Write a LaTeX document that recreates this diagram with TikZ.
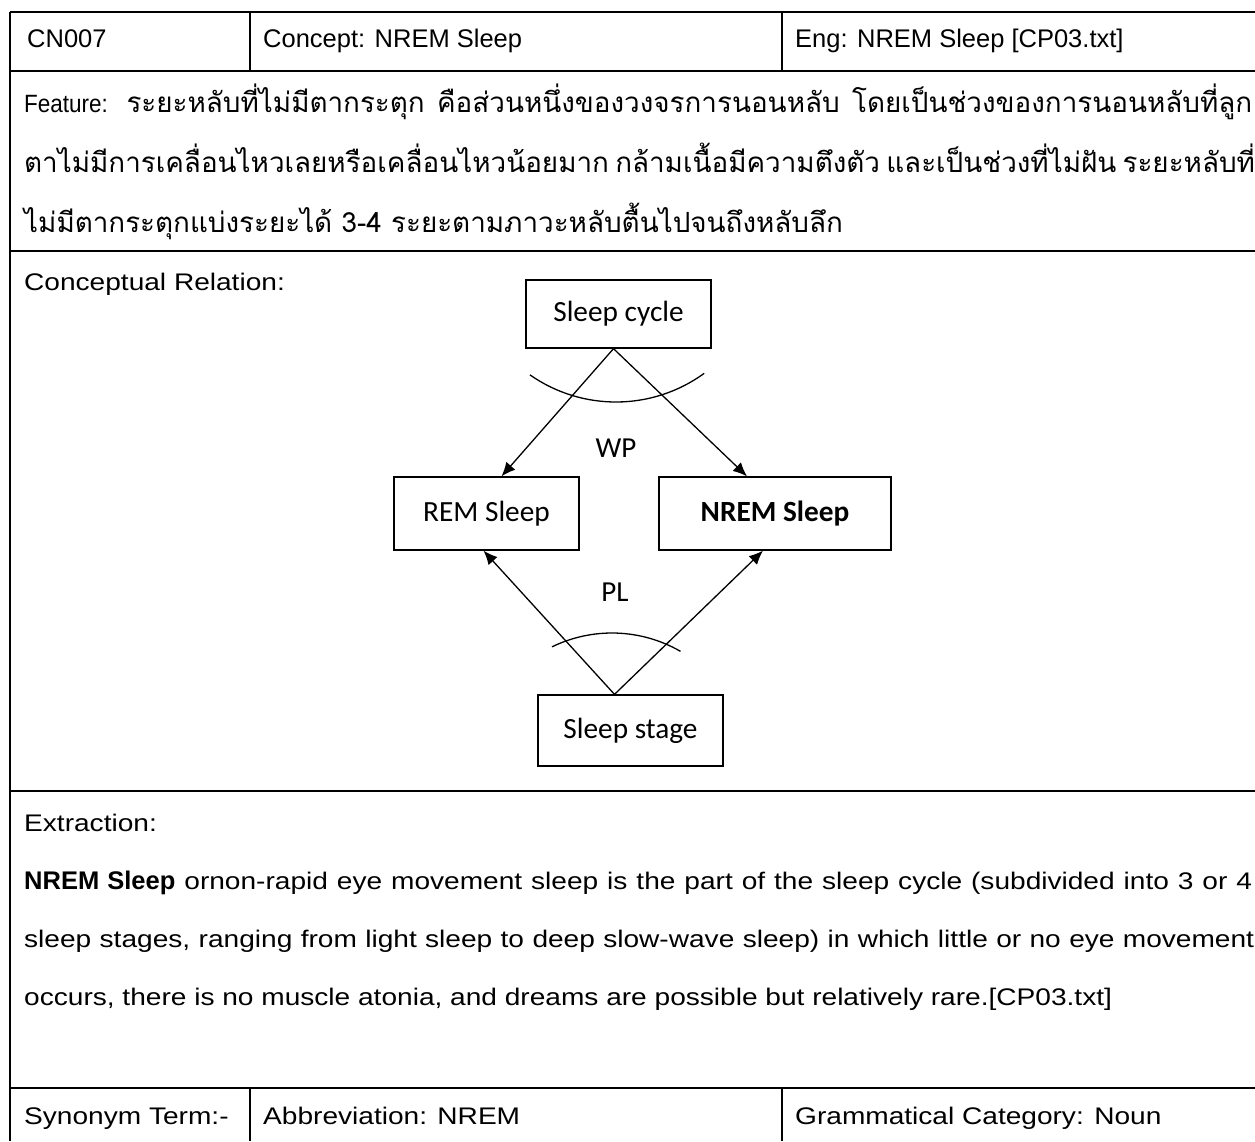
\documentclass[tikz,border=0pt]{standalone}
\usepackage{fontspec}
\setmainfont{Liberation Sans}
\newfontfamily\bodyfont[FakeStretch=1.17]{Liberation Sans}
\newfontfamily\featfont[FakeStretch=0.9]{Liberation Sans}
\newfontfamily\thaifont[Script=Thai]{Loma}
\newfontfamily\diagfont{Carlito}
\usetikzlibrary{arrows.meta,calc}

\tikzset{
  rule/.style={line width=2.4pt},
  head/.style={anchor=base west, inner sep=0pt, font=\fontsize{25.5}{30}\selectfont},
  txt/.style={anchor=base west, inner sep=0pt, font=\bodyfont\fontsize{24}{28}\selectfont},
  thai/.style={anchor=base west, inner sep=0pt, font=\thaifont\fontsize{27.8}{32}\selectfont},
  cbox/.style={draw, line width=1.3pt, inner sep=0pt, minimum width=185pt,
    font=\diagfont\fontsize{29.3}{34}\selectfont},
  rel/.style={line width=1.3pt, -{Latex[length=14pt,width=12pt]}},
  arcline/.style={line width=1.3pt},
  rlabel/.style={inner sep=0pt, font=\diagfont\fontsize{29}{34}\selectfont}
}

\begin{document}
\begin{tikzpicture}[x=1pt,y=-1pt]
\useasboundingbox (0,0) rectangle (1255,1141);

% table rules
\draw[rule] (10,12) -- (1255,12);
\draw[rule] (10,12) -- (10,1141);
\draw[rule] (10,71) -- (1255,71);
\draw[rule] (250,12) -- (250,71);
\draw[rule] (782,12) -- (782,71);
\draw[rule] (10,251) -- (1255,251);
\draw[rule] (10,791) -- (1255,791);
\draw[rule] (10,1088) -- (1255,1088);
\draw[rule] (250,1088) -- (250,1141);
\draw[rule] (782,1088) -- (782,1141);

% header row
\node[head] (id) at (27,47) {CN007};
\node[head] (concept) at (263,47) {Concept: NREM Sleep};
\node[head] (eng) at (795,47) {Eng: NREM Sleep [CP03.txt]};

% feature
\node[thai] (f1) at (24,112) {\makebox[1228pt][s]{{\featfont\fontsize{25}{28}\selectfont Feature:} ระยะหลับที่ไม่มีตากระตุก คือส่วนหนึ่งของวงจรการนอนหลับ โดยเป็นช่วงของการนอนหลับที่ลูก}};
\node[thai] (f2) at (24,172) {\makebox[1228pt][s]{ตาไม่มีการเคลื่อนไหวเลยหรือเคลื่อนไหวน้อยมาก กล้ามเนื้อมีความตึงตัว และเป็นช่วงที่ไม่ฝัน ระยะหลับที่}};
\node[thai] (f3) at (24,232) {ไม่มีตากระตุกแบ่งระยะได้ 3-4 ระยะตามภาวะหลับตื้นไปจนถึงหลับลึก};

% conceptual relation
\node[txt] (crel) at (24,290) {Conceptual Relation:};

\node[cbox, minimum height=68pt] (cyc) at (618.5,314) {Sleep cycle};
\node[cbox, minimum height=73pt] (rem) at (486.5,513.5) {REM Sleep};
\node[cbox, minimum height=73pt, minimum width=232pt] (nrem) at (775,513.5) {\bfseries NREM Sleep};
\node[cbox, minimum height=71pt] (stage) at (630.5,730.5) {Sleep stage};

\draw[rel] ($(cyc.south)+(-5,0)$) -- ($(rem.north)+(15,0)$);
\draw[rel] ($(cyc.south)+(-5,0)$) -- ($(nrem.north)+(-28,0)$);
\draw[rel] ($(stage.north)+(-16,0)$) -- ($(rem.south)+(-3,0)$);
\draw[rel] ($(stage.north)+(-16,0)$) -- ($(nrem.south)+(-12,0)$);

\coordinate (wpc) at (616,252);
\coordinate (plc) at (612,770);
\draw[arcline] ([shift={(235:150pt)}]wpc) arc[start angle=235, end angle=306, radius=150pt];
\draw[arcline] ([shift={(116:137pt)}]plc) arc[start angle=116, end angle=60, radius=137pt];

\node[rlabel] (wp) at (616,448) {WP};
\node[rlabel] (pl) at (615,592) {PL};

% extraction
\node[txt] (ext) at (24,831) {Extraction:};
\node[txt] (e1) at (24,889) {\makebox[1228pt][s]{{\normalfont\bfseries\fontsize{25.5}{28}\selectfont NREM Sleep} ornon-rapid eye movement sleep is the part of the sleep cycle (subdivided into 3 or 4}};
\node[txt] (e2) at (24,947) {\makebox[1230pt][s]{sleep stages, ranging from light sleep to deep slow-wave sleep) in which little or no eye movement}};
\node[txt] (e3) at (24,1005) {occurs, there is no muscle atonia, and dreams are possible but relatively rare.[CP03.txt]};

% bottom row
\node[txt] (syn) at (24,1124) {Synonym Term:-};
\node[txt] (abbr) at (263,1124) {Abbreviation: NREM};
\node[txt] (gram) at (795,1124) {Grammatical Category: Noun};
\end{tikzpicture}
\end{document}
